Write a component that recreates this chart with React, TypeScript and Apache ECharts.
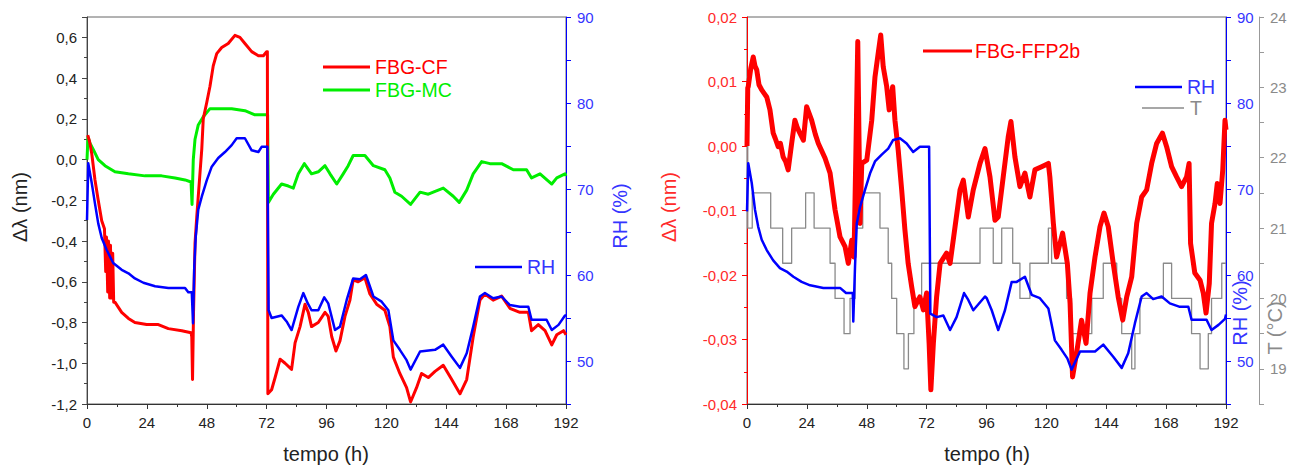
import React, { useEffect, useRef } from "react";
import * as echarts from "echarts";

const FONT = "'Liberation Sans', Arial, Helvetica, sans-serif";

// time axis (hours)
const hourMin = 0;
const hourMax = 192;
const hourStep = 24;

// tick / label values
const rhTicks = [45, 50, 55, 60, 65, 70, 75, 80, 85, 90];
const rhLabels = [50, 60, 70, 80, 90];
const tTicks = [18.5, 19, 19.5, 20, 20.5, 21, 21.5, 22, 22.5, 23, 23.5, 24];
const tLabels = [19, 20, 21, 22, 23, 24];

// ---------- left panel ----------
const cfData: [number, number][] = [
  [0.3, 0.12], [1.0, 0.09], [1.9, 0.03], [3.2, -0.10], [4.5, -0.20], [5.9, -0.30], [7.0, -0.34],
  [7.5, -0.55], [7.8, -0.38], [8.3, -0.65], [8.6, -0.40], [9.1, -0.68], [9.4, -0.42], [9.9, -0.68],
  [10.3, -0.46], [10.7, -0.70], [11.2, -0.70], [13.9, -0.75], [16.6, -0.78], [19.2, -0.80],
  [23.9, -0.81], [28.6, -0.81], [32.6, -0.83], [38.0, -0.84], [41.7, -0.85], [42.0, -0.87],
  [42.3, -1.08], [42.7, -0.75], [43.3, -0.41], [44.0, -0.28], [44.6, -0.18], [46.0, 0.05],
  [46.6, 0.20], [48.0, 0.28], [49.3, 0.36], [50.6, 0.46], [52.0, 0.52], [54.0, 0.55], [56.6, 0.57],
  [59.3, 0.61], [61.3, 0.60], [63.3, 0.57], [66.0, 0.53], [68.7, 0.51], [70.7, 0.51], [72.0, 0.53],
  [72.3, 0.53], [72.5, -1.15], [74.0, -1.13], [75.4, -1.07], [77.4, -0.98], [79.4, -1.00],
  [82.0, -1.03], [83.4, -0.90], [85.4, -0.82], [87.4, -0.71], [88.7, -0.75], [90.0, -0.82],
  [92.7, -0.80], [95.4, -0.75], [96.7, -0.77], [98.1, -0.87], [99.8, -0.94], [101.4, -0.89],
  [103.4, -0.77], [105.4, -0.69], [106.7, -0.59], [108.7, -0.60], [111.4, -0.58], [113.4, -0.66],
  [116.1, -0.71], [119.4, -0.74], [121.4, -0.82], [122.8, -0.97], [125.4, -1.05], [128.1, -1.12],
  [129.7, -1.19], [132.1, -1.12], [134.1, -1.05], [136.8, -1.07], [139.5, -1.04], [142.8, -1.01],
  [146.2, -1.08], [149.5, -1.15], [152.2, -1.08], [154.8, -0.87], [157.5, -0.69], [159.5, -0.66],
  [162.8, -0.69], [166.2, -0.67], [169.5, -0.73], [173.5, -0.75], [176.9, -0.75], [178.2, -0.84],
  [180.9, -0.81], [183.6, -0.84], [186.3, -0.91], [188.3, -0.86], [191.0, -0.84], [192, -0.86],
];

const mcData: [number, number][] = [
  [0, 0.0], [0.4, 0.11], [1.2, 0.08], [2.5, 0.05], [4.5, 0.0], [7.2, -0.03], [11.2, -0.06],
  [16.6, -0.07], [23.2, -0.08], [29.9, -0.08], [35.3, -0.09], [39.3, -0.10], [41.7, -0.11],
  [42.1, -0.22], [42.6, 0.0], [43.3, 0.10], [44.6, 0.17], [46.6, 0.21], [49.3, 0.25], [52.6, 0.25],
  [58.0, 0.25], [63.3, 0.24], [67.3, 0.22], [72.0, 0.22], [72.4, 0.22], [72.7, -0.21], [74.7, -0.17],
  [78.0, -0.12], [80.7, -0.13], [82.7, -0.14], [84.7, -0.07], [87.1, -0.02], [90.0, -0.07],
  [92.7, -0.06], [95.4, -0.03], [97.4, -0.07], [100.1, -0.12], [102.7, -0.07], [104.7, -0.03],
  [106.7, 0.02], [111.4, 0.02], [114.8, -0.03], [119.4, -0.05], [121.4, -0.09], [123.4, -0.16],
  [126.1, -0.18], [129.7, -0.22], [133.5, -0.16], [136.8, -0.17], [142.8, -0.14], [146.8, -0.18],
  [149.2, -0.21], [152.2, -0.15], [154.8, -0.07], [158.2, -0.01], [161.5, -0.02], [166.2, -0.02],
  [170.9, -0.05], [176.2, -0.05], [178.2, -0.09], [181.6, -0.07], [186.3, -0.12], [188.3, -0.09],
  [191.6, -0.07], [192, -0.08],
];

const rhLeftData: [number, number][] = [
  [0, 66.4], [0.5, 73.0], [1.9, 70.7], [3.2, 68.3], [4.5, 66.0], [5.9, 64.3], [7.9, 62.9],
  [10.5, 61.4], [13.9, 60.6], [16.6, 60.2], [19.2, 59.6], [22.6, 59.1], [27.3, 58.7], [32.6, 58.5],
  [39.3, 58.5], [40.6, 58.0], [42.0, 58.0], [42.5, 54.4], [43.0, 61.0], [43.6, 64.5], [44.6, 67.6],
  [46.0, 69.1], [48.0, 71.0], [50.0, 72.6], [52.6, 73.6], [55.3, 74.3], [58.0, 75.1], [60.0, 75.9],
  [63.3, 75.9], [66.0, 74.5], [68.7, 74.3], [70.0, 74.9], [72.3, 74.9], [72.8, 55.9], [74.0, 55.0],
  [78.0, 55.3], [80.0, 54.6], [82.0, 53.6], [84.7, 56.3], [86.7, 57.9], [88.5, 56.7], [90.0, 55.9],
  [92.7, 55.9], [95.1, 57.4], [96.7, 56.7], [99.4, 53.6], [101.4, 54.0], [104.1, 57.1],
  [106.7, 59.6], [109.4, 59.5], [111.8, 60.0], [114.8, 57.5], [118.1, 56.9], [120.8, 55.9],
  [122.8, 52.4], [125.4, 51.3], [128.1, 50.1], [129.7, 49.0], [133.5, 51.1], [139.5, 51.3],
  [142.8, 51.9], [146.2, 50.5], [149.5, 49.2], [152.2, 50.9], [154.8, 54.0], [157.5, 57.5],
  [159.5, 57.9], [162.8, 57.3], [166.2, 57.5], [169.5, 56.5], [173.5, 56.3], [176.9, 56.3],
  [178.2, 54.8], [184.2, 54.8], [186.3, 53.6], [189.0, 54.2], [191.6, 55.3], [192, 55.3],
];

// ---------- right panel ----------
const ffpData: [number, number][] = [
  [0, 0.0], [0.3, 0.009], [0.5, 0.0092], [1.5, 0.012], [2.5, 0.0138], [3.2, 0.0124], [3.9, 0.0118],
  [4.8, 0.0095], [5.9, 0.0087], [6.8, 0.0082], [7.9, 0.0076], [9.2, 0.0056], [10.5, 0.002],
  [11.3, 0.0012], [12.5, -0.0001], [13.4, 0.0004], [14.5, -0.0017], [15.5, -0.0024], [16.5, -0.0037],
  [17.9, 0.0004], [19.2, 0.004], [20.2, 0.0028], [21.2, 0.002], [22.6, 0.0009], [23.9, 0.0061],
  [25.9, 0.004], [27.4, 0.0018], [28.6, 0.0004], [31.3, -0.0019], [33.3, -0.0042], [35.3, -0.0099],
  [37.3, -0.0141], [39.3, -0.0156], [40.6, -0.0182], [42.0, -0.0146], [42.9, -0.0172],
  [43.6, -0.002], [44.4, 0.0162], [45.0, -0.002], [45.3, -0.012], [46.0, -0.0027], [48.0, -0.0022],
  [50.0, 0.004], [51.3, 0.0107], [52.6, 0.0144], [53.6, 0.0172], [54.6, 0.0123], [56.0, 0.0092],
  [57.0, 0.0056], [58.4, 0.0092], [59.3, 0.004], [60.6, -0.0006], [62.0, -0.0068], [63.3, -0.013],
  [64.6, -0.0182], [66.0, -0.0218], [67.3, -0.0249], [69.3, -0.0234], [70.7, -0.0254],
  [72.0, -0.0228], [73.0, -0.0306], [73.7, -0.0378], [74.7, -0.0306], [76.0, -0.0234],
  [77.4, -0.0182], [80.0, -0.0166], [81.4, -0.0182], [83.4, -0.0125], [85.4, -0.0068],
  [86.7, -0.0053], [88.7, -0.011], [90.7, -0.0068], [93.4, -0.0027], [95.4, -0.0004],
  [97.4, -0.0048], [99.4, -0.0115], [100.7, -0.011], [102.7, -0.0048], [104.7, 0.0014],
  [105.8, 0.0038], [107.4, -0.0017], [109.4, -0.0063], [111.4, -0.0042], [113.4, -0.0079],
  [115.4, -0.0037], [118.1, -0.0032], [120.8, -0.0027], [121.4, -0.0048], [122.8, -0.012],
  [124.1, -0.0172], [126.5, -0.0135], [128.4, -0.0182], [129.5, -0.0244], [130.5, -0.0358],
  [132.1, -0.0321], [134.1, -0.027], [135.9, -0.0306], [137.5, -0.0228], [139.5, -0.0172],
  [141.5, -0.0125], [143.1, -0.0104], [144.8, -0.0125], [146.8, -0.0182], [148.8, -0.0234],
  [150.6, -0.027], [152.2, -0.0234], [154.2, -0.0203], [156.2, -0.012], [158.2, -0.0079],
  [160.2, -0.0068], [162.2, -0.0027], [164.2, 0.0004], [166.5, 0.002], [168.2, -0.0001],
  [170.2, -0.0032], [172.2, -0.0048], [174.2, -0.0063], [176.2, -0.0048], [177.2, -0.0027],
  [177.8, -0.0151], [179.5, -0.0197], [181.6, -0.0208], [182.9, -0.0228], [184.0, -0.0259],
  [185.3, -0.0213], [186.2, -0.012], [187.6, -0.0089], [188.5, -0.0058], [189.6, -0.0089],
  [190.7, -0.0037], [191.6, 0.004], [192, 0.0025],
];

const rhRightData: [number, number][] = [
  [0, 67.4], [0.5, 73.0], [1.9, 70.7], [3.2, 67.6], [4.5, 65.6], [5.9, 64.1], [7.9, 62.9],
  [10.5, 61.7], [13.2, 60.8], [15.9, 60.4], [18.6, 59.8], [21.9, 59.2], [25.3, 58.8], [30.6, 58.5],
  [37.3, 58.5], [39.7, 57.9], [42.4, 57.9], [42.6, 54.6], [43.3, 61.0], [44.0, 66.0], [45.3, 67.9],
  [47.3, 69.9], [49.3, 71.8], [51.3, 73.2], [54.0, 74.0], [56.6, 74.7], [58.6, 75.7], [61.3, 75.9],
  [64.0, 75.3], [66.6, 74.3], [69.3, 74.9], [73.0, 74.9], [73.5, 55.5], [76.0, 55.1], [78.7, 55.3],
  [81.4, 53.6], [84.0, 55.1], [87.0, 57.9], [88.7, 57.1], [90.7, 55.9], [95.4, 57.5], [96.1, 57.3],
  [98.1, 55.9], [100.7, 53.6], [103.4, 55.9], [106.1, 59.2], [108.1, 59.2], [111.4, 59.8],
  [114.1, 57.7], [117.4, 57.3], [120.8, 56.1], [123.4, 52.4], [126.1, 51.3], [128.4, 50.3],
  [130.1, 49.0], [133.5, 51.1], [139.5, 51.1], [142.8, 51.9], [146.8, 50.5], [150.2, 49.2],
  [152.8, 50.9], [155.5, 54.4], [158.2, 57.5], [160.2, 57.9], [162.8, 57.2], [166.2, 57.5],
  [169.5, 56.7], [173.5, 56.3], [176.9, 56.3], [178.2, 54.8], [184.2, 54.8], [186.2, 53.6],
  [189.0, 54.2], [191.6, 54.9], [192, 55.4],
];

const tData: [number, number][] = [
  [0, 23.15], [0.3, 21], [2.1, 21.5], [9.5, 21], [14.3, 20.5], [17.9, 21], [23.5, 21.5], [26.9, 21],
  [33.3, 20.5], [35.3, 20], [38.9, 19.5], [41.3, 20], [43.3, 21], [46.4, 21.5], [53.3, 21],
  [56.6, 20.5], [58.0, 20], [60.0, 19.5], [62.9, 19], [64.7, 19.5], [66.9, 20], [70.0, 20.5],
  [93.4, 21], [98.7, 20.5], [102.1, 21], [106.5, 20.5], [109.4, 20], [113.4, 20.5], [120.8, 21],
  [122.1, 20.5], [128.1, 20], [130.1, 19.5], [138.2, 20], [142.8, 20.5], [148.2, 20], [150.2, 19.5],
  [154.2, 19], [155.5, 19.5], [157.5, 20], [166.9, 20.5], [170.2, 20], [178.2, 19.5], [181.6, 19],
  [184.9, 19.5], [186.2, 20], [190.3, 20.5], [192, 20.5],
];

const RED = "#ff0000";
const GREEN = "#00ee00";
const BLUE = "#0000ff";
const BLUE_TXT = "#3535ff";
const GREY = "#8a8a8a";
const DARK = "#333333";

const comma = (v: number, d: number) => {
  const x = Math.abs(v) < 1e-9 ? 0 : v;
  return x.toFixed(d).replace(".", ",");
};

const xAxisCfg = (gridIndex: number) => ({
  type: "value",
  gridIndex,
  min: hourMin,
  max: hourMax,
  interval: hourStep,
  axisLine: { show: true, onZero: false, lineStyle: { color: DARK, width: 1 } },
  axisTick: { show: true, length: 5, lineStyle: { color: DARK } },
  minorTick: { show: true, splitNumber: 2, length: 3, lineStyle: { color: DARK } },
  axisLabel: { color: "#222", fontSize: 15, fontFamily: FONT, margin: 11 },
  splitLine: { show: false },
  minorSplitLine: { show: false },
});

const rhAxisCfg = (gridIndex: number) => ({
  type: "value",
  gridIndex,
  position: "right",
  min: 45,
  max: 90,
  interval: 5,
  axisLine: { show: true, onZero: false, lineStyle: { color: BLUE, width: 1 } },
  axisTick: { show: true, length: 5, customValues: rhTicks, lineStyle: { color: BLUE } },
  axisLabel: {
    color: BLUE_TXT,
    fontSize: 15,
    fontFamily: FONT,
    margin: 11,
    customValues: rhLabels,
    formatter: (v: number) => String(Math.round(v)),
  },
  splitLine: { show: false },
});

const lineSeries = (
  data: [number, number][],
  xi: number,
  yi: number,
  color: string,
  width: number,
  z: number,
  step?: string
) => ({
  type: "line",
  xAxisIndex: xi,
  yAxisIndex: yi,
  data,
  showSymbol: false,
  symbol: "none",
  step: step || false,
  lineStyle: { color, width, join: "round" },
  z,
});

const text = (
  t: string,
  x: number,
  y: number,
  color: string,
  size: number,
  rotate = false,
  align = "left"
) => ({
  type: "text",
  x,
  y,
  rotation: rotate ? Math.PI / 2 : 0,
  z: 100,
  style: {
    text: t,
    fill: color,
    fontSize: size,
    fontFamily: FONT,
    align: rotate ? "center" : align,
    verticalAlign: "middle",
  },
});

const seg = (x1: number, x2: number, y: number, color: string, w: number) => ({
  type: "line",
  z: 100,
  shape: { x1, y1: y, x2, y2: y },
  style: { stroke: color, lineWidth: w },
});

const option: any = {
  animation: false,
  backgroundColor: "#ffffff",
  textStyle: { fontFamily: FONT },
  grid: [
    { left: 87, right: 731, top: 17, bottom: 61, show: true, borderColor: "#666", borderWidth: 1 },
    { left: 747, right: 71, top: 17, bottom: 61, show: true, borderColor: "#666", borderWidth: 1 },
  ],
  xAxis: [xAxisCfg(0), xAxisCfg(1)],
  yAxis: [
    {
      type: "value",
      gridIndex: 0,
      position: "left",
      min: -1.2,
      max: 0.7,
      interval: 0.2,
      axisLine: { show: true, onZero: false, lineStyle: { color: "#444", width: 1 } },
      axisTick: { show: true, length: 5, lineStyle: { color: "#444" } },
      minorTick: { show: true, splitNumber: 2, length: 3, lineStyle: { color: "#444" } },
      axisLabel: {
        color: "#222",
        fontSize: 15,
        fontFamily: FONT,
        margin: 10,
        showMaxLabel: false,
        formatter: (v: number) => comma(v, 1),
      },
      splitLine: { show: false },
      minorSplitLine: { show: false },
    },
    rhAxisCfg(0),
    {
      type: "value",
      gridIndex: 1,
      position: "left",
      min: -0.04,
      max: 0.02,
      interval: 0.01,
      axisLine: { show: true, onZero: false, lineStyle: { color: RED, width: 1 } },
      axisTick: { show: true, length: 5, lineStyle: { color: RED } },
      minorTick: { show: true, splitNumber: 2, length: 3, lineStyle: { color: RED } },
      axisLabel: {
        color: "#ff2a2a",
        fontSize: 15,
        fontFamily: FONT,
        margin: 10,
        formatter: (v: number) => comma(v, 2),
      },
      splitLine: { show: false },
      minorSplitLine: { show: false },
    },
    rhAxisCfg(1),
    {
      type: "value",
      gridIndex: 1,
      position: "right",
      offset: 33,
      min: 18.5,
      max: 24,
      interval: 0.5,
      axisLine: { show: true, onZero: false, lineStyle: { color: "#999", width: 1 } },
      axisTick: { show: true, length: 5, customValues: tTicks, lineStyle: { color: "#999" } },
      axisLabel: {
        color: GREY,
        fontSize: 15,
        fontFamily: FONT,
        margin: 11,
        customValues: tLabels,
        formatter: (v: number) => String(Math.round(v)),
      },
      splitLine: { show: false },
    },
  ],
  series: [
    lineSeries(mcData, 0, 0, GREEN, 3, 2),
    lineSeries(cfData, 0, 0, RED, 3, 3),
    lineSeries(rhLeftData, 0, 1, BLUE, 2.5, 4),
    lineSeries(tData, 1, 4, GREY, 1.3, 2, "end"),
    lineSeries(ffpData, 1, 2, RED, 5, 3),
    lineSeries(rhRightData, 1, 3, BLUE, 2.5, 4),
  ],
  graphic: [
    // axis titles
    text("Δλ (nm)", 20, 207, "#222", 20, true),
    text("RH (%)", 620, 216, BLUE_TXT, 20, true),
    text("tempo (h)", 326, 454, "#222", 20, false, "center"),
    text("Δλ (nm)", 669, 207, "#ff2a2a", 20, true),
    text("RH (%)", 1240, 313, BLUE_TXT, 20, true),
    text("T (°C)", 1275, 328, GREY, 20, true),
    text("tempo (h)", 987, 454, "#222", 20, false, "center"),
    // left legends
    seg(323, 370, 67, RED, 3),
    text("FBG-CF", 375, 67, RED, 19.5),
    seg(323, 370, 90, GREEN, 3),
    text("FBG-MC", 375, 90, GREEN, 19.5),
    seg(475, 522, 267, BLUE, 2.5),
    text("RH", 527, 267, BLUE_TXT, 19.5),
    // right legends
    seg(923, 972, 51, RED, 3),
    text("FBG-FFP2b", 975, 51, RED, 19.5),
    seg(1135, 1182, 87, BLUE, 2.5),
    text("RH", 1187, 87, BLUE_TXT, 19.5),
    seg(1142, 1184, 108, GREY, 1.5),
    text("T", 1190, 108, GREY, 19.5),
  ],
};

export default function App() {
  const ref = useRef<HTMLDivElement>(null);
  useEffect(() => {
    if (!ref.current) return;
    const chart = echarts.init(ref.current, null, { renderer: "svg" });
    chart.setOption(option);
    return () => chart.dispose();
  }, []);
  return (
    <div
      ref={ref}
      style={{ position: "fixed", left: 0, top: 0, width: 1297, height: 465, background: "#fff" }}
    />
  );
}
